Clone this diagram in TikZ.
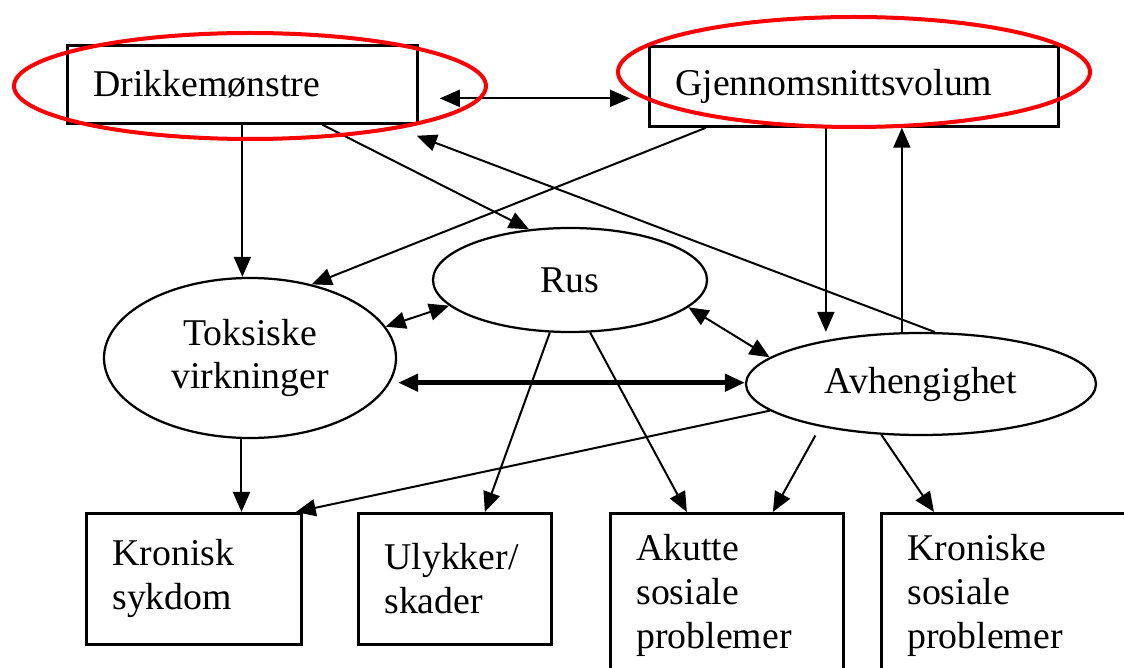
\documentclass[tikz,border=0pt]{standalone}
\usepackage{fontspec}
\setmainfont{Liberation Serif}
\usetikzlibrary{shapes.geometric,arrows.meta}

\begin{document}
\begin{tikzpicture}[x=0.2mm,y=-0.2mm,
	boks/.style={draw,line width=0.55mm,rectangle,align=left,anchor=north west,inner xsep=5.2mm,inner ysep=0pt,font=\fontsize{21.5}{25}\selectfont},
	oval/.style={draw,line width=0.45mm,ellipse,inner sep=0pt,align=center,font=\fontsize{21.5}{25}\selectfont},
	pil/.style={line width=0.4mm,-{Triangle[length=4mm,width=3.4mm]}},
	dobbel/.style={line width=0.4mm,{Triangle[length=4mm,width=3.4mm]}-{Triangle[length=4mm,width=3.4mm]}},
	ring/.style={draw=red,line width=0.8mm}]
				\useasboundingbox (0,0) rectangle (1124,668);
				\clip (0,0) rectangle (1124,668);
				\node[boks,text width=59.6mm,minimum height=15.6mm] (drikk) at (66,44) {Drikkemønstre};
				\node[boks,text width=71.4mm,minimum height=16mm] (gjen) at (648,45) {Gjennomsnittsvolum};
				\node[oval,minimum width=58.4mm,minimum height=32mm] (tox) at (250,358) {Toksiske\\virkninger};
				\node[oval,minimum width=54.8mm,minimum height=20.8mm] (rus) at (570,280) {Rus};
				\node[oval,minimum width=70mm,minimum height=20.4mm] (avh) at (921,384) {Avhengighet};
				\node[boks,text width=32.6mm,minimum height=26.2mm] (krs) at (85,512) {Kronisk\\sykdom};
				\node[boks,text width=28.2mm,minimum height=26.2mm] (uly) at (357,512) {Ulykker/\\skader};
				\node[boks,text width=36.2mm,minimum height=32.8mm] (aku) at (609,512) {Akutte\\sosiale\\problemer};
				\node[boks,text width=49.6mm,minimum height=32.8mm] (kro) at (880,512) {Kroniske\\sosiale\\problemer};
				\draw[dobbel] ([shift={(21,14)}]drikk.east) -- ([shift={(-18,12)}]gjen.west);
				\draw[pil] (drikk.south) -- (drikk.south |- tox.north);
				\draw[pil] ([shift={(80,0)}]drikk.south) -- (rus.129);
				\draw[pil] ([shift={(-148,0)}]gjen.south) -- (tox.50);
				\draw[pil] (avh.75) -- ([shift={(-2,11)}]drikk.south east);
				\draw[pil] ([shift={(-28,0)}]gjen.south) -- ([shift={(-28,0)}]gjen.south |- avh.north);
				\draw[pil] ([shift={(48,0)}]gjen.south |- avh.north) -- ([shift={(48,0)}]gjen.south);
				\draw[dobbel] (rus.192) -- (tox.13);
				\draw[dobbel] (rus.-13) -- (avh.170);
				\draw[dobbel,line width=0.9mm,shorten <=1.6mm] (tox.-10) -- (tox.-10 -| avh.west);
				\draw[pil] (tox.-96) -- (tox.-96 |- krs.north);
				\draw[pil] (avh.190) -- ([shift={(-7,0)}]krs.north east);
				\draw[pil] (rus.-111) -- ([shift={(30,0)}]uly.north);
				\draw[pil] (rus.-69) -- ([shift={(-40,0)}]aku.north);
				\draw[pil,shorten <=2mm] (avh.203) -- ([shift={(46,0)}]aku.north);
				\draw[pil] (avh.232) -- ([shift={(54,0)}]kro.north west);
				\draw[ring] (250,86) ellipse [x radius=236, y radius=53];
				\draw[ring] (854,72) ellipse [x radius=236, y radius=55];
\end{tikzpicture}
\end{document}
